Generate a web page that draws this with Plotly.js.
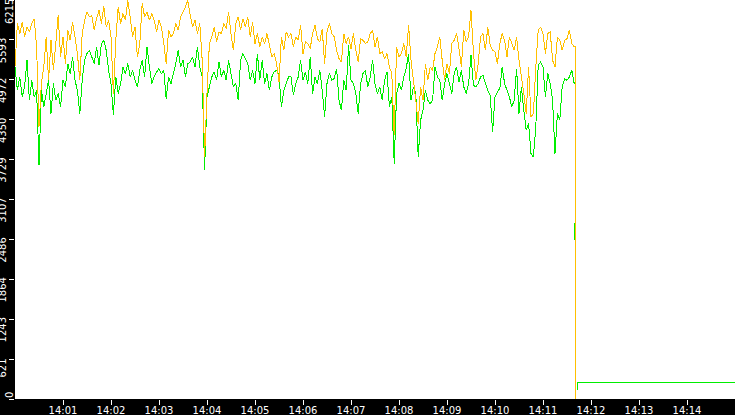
<!DOCTYPE html>
<html>
<head>
<meta charset="utf-8">
<script src="https://cdn.plot.ly/plotly-3.0.1.min.js"></script>
<style>
  html, body { margin: 0; padding: 0; background: #000; }
  #chart { width: 735px; height: 415px; }
  .js-line { shape-rendering: crispEdges; }
  .ytick, .xtick { shape-rendering: crispEdges; }
</style>
</head>
<body>
<div id="chart"></div>
<script>
// ---- data (sampled every 3 s from 14:00:00) ----
const stepSeconds = 3;

const orangeValues = [
  5173,5849,5693,5874,5641,5797,5719,5849,5926,5485,
  4239,4914,5173,5641,4966,5589,5121,5537,5978,5329,
  5641,5225,5745,5589,5874,5641,5381,4966,5693,5900,
  6030,5952,5978,5745,5926,6056,5849,6119,5797,5900,
  5641,4758,5589,6108,5849,6004,5900,6212,5952,5641,
  5797,5329,5537,6170,5952,6030,5900,6004,
  5900,5719,5900,5797,5537,5225,5745,5641,5693,5849,
  5745,5952,6030,6108,6212,5978,5797,5900,5693,5849,
  5277,3771,4758,5537,5641,5797,5563,5719,5693,5849,
  5771,6030,5693,5433,5849,5952,5745,5926,5797,5952,
  5641,5874,5537,5693,5485,5641,5537,5693,5511,5329,
  5381,5225,4940,5641,5433,5719,5641,
  5693,5485,5641,5589,5823,5381,5563,5537,5459,5693,
  5823,5615,5563,5771,5225,5719,5849,5693,5641,5433,
  5303,5251,5693,5537,5641,5459,5693,5433,5251,5615,
  5589,5537,5563,5693,5745,5485,5641,5381,5407,5303,
  5381,5173,5070,4109,5485,5329,5381,5537,5329,5823,
  5277,4966,4654,4291,4862,4654,5225,4966,5173,5121,
  5381,5485,5641,5277,4966,5225,5070,5537,5589,5693,
  5459,5173,5745,5563,5641,6056,5407,4966,5225,5641,
  5693,5433,5797,5511,5433,5407,5225,5537,5693,5589,
  5329,5641,5537,5433,5641,5277,5018,4758,4446,5173,
  4394,4446,5173,5745,5797,5693,5381,5693,5719,5277,
  5173,5641,5589,5433,5589,5615,5745,5537,5485
];

const greenValues = [
  5173,4810,5018,4706,4862,5277,4654,4966,4706,4810,
  3642,4810,4550,4758,4966,4446,4914,4654,4758,4550,
  4966,4862,5225,5070,5329,4966,4810,4446,4966,5277,
  5381,5433,5329,5225,5485,5199,5537,5589,5433,5121,
  4914,4420,5018,4758,4914,5173,5070,5225,5018,5121,
  4966,4862,5121,5277,5018,5485,5173,4914,
  5018,5095,5147,5070,5121,4680,5018,4914,5070,5225,
  5433,5173,5277,5018,5225,5251,5329,5173,5485,5173,
  5018,3564,4706,4862,5018,5095,4966,5251,5018,5121,
  4966,5277,5070,4862,4914,4654,5277,5381,5303,5225,
  4966,5121,4914,5381,4966,5277,4914,5070,4810,5018,
  5095,5121,5044,4550,4810,4914,5018,
  5018,4732,4914,5018,5277,4966,5095,4914,5329,4758,
  5018,4914,5121,4810,4394,4914,5070,4966,4992,5147,
  4654,4498,4966,4810,5511,4966,4914,4758,4446,4914,
  5070,5121,4862,5018,5277,4914,4758,4862,4654,4966,
  5095,4550,4706,3668,4758,4914,4810,5018,5147,5381,
  4654,4862,4758,3771,4342,4498,4810,4654,4602,4654,
  5173,5018,4966,4654,4914,5070,4914,4758,5070,5173,
  4940,5121,4862,4758,4914,5355,4888,4862,4914,5018,
  5044,4914,4810,4732,4161,4706,4784,4836,5173,4914,
  4810,4706,4550,4654,5147,4446,4862,4498,4187,4291,
  3823,3771,4239,5199,5251,5173,4706,5070,4914,4654,
  3823,4446,4342,4862,4992,4966,5018,5121,4914
];

// ---- tail: the drop at about 14:11:40 and the flat level after it ----
const dropTime = "2024-01-01 14:11:40.000";
const preDropTime = "2024-01-01 14:11:38.750";
const restartTime = "2024-01-01 14:11:42.500";
const endTime = "2024-01-01 14:15:00";

const orangeTailTimes  = [dropTime, dropTime];
const orangeTailValues = [5485, 0];

const greenTailTimes   = [dropTime, dropTime, preDropTime, preDropTime, dropTime, dropTime,
                          null, restartTime, restartTime, endTime];
const greenTailValues  = [4914, 2730, 2730, 2480, 2480, 0,
                          null, 140, 257, 257];

// ---- axis ticks ----
const yTickValues = [0, 621, 1243, 1864, 2486, 3107, 3729, 4350, 4972, 5593, 6215];
const yTickLabels = ["", "\u00a0621", "1243", "1864", "2486", "3107", "3729", "4350", "4972", "5593", ""];
const xTickValues = ["2024-01-01 14:01", "2024-01-01 14:02", "2024-01-01 14:03", "2024-01-01 14:04",
                     "2024-01-01 14:05", "2024-01-01 14:06", "2024-01-01 14:07", "2024-01-01 14:08",
                     "2024-01-01 14:09", "2024-01-01 14:10", "2024-01-01 14:11", "2024-01-01 14:12",
                     "2024-01-01 14:13", "2024-01-01 14:14"];
const xTickLabels = ["14:01", "14:02", "14:03", "14:04", "14:05", "14:06", "14:07",
                     "14:08", "14:09", "14:10", "14:11", "14:12", "14:13", "14:14"];
const xRange = ["2024-01-01 14:00:00", "2024-01-01 14:15:00"];
const yRange = [0, 6216];

// ---- build time stamps ----
function pad(n) { return String(n).padStart(2, "0"); }
function timeAt(i) {
  const base = new Date(2024, 0, 1, 14, 0, 0);
  const d = new Date(base.getTime() + i * stepSeconds * 1000);
  return d.getFullYear() + "-" + pad(d.getMonth() + 1) + "-" + pad(d.getDate()) + " " +
         pad(d.getHours()) + ":" + pad(d.getMinutes()) + ":" + pad(d.getSeconds());
}
const orangeTimes = orangeValues.map((_, i) => timeAt(i)).concat(orangeTailTimes);
const greenTimes = greenValues.map((_, i) => timeAt(i)).concat(greenTailTimes);

const traces = [
  {
    x: greenTimes, y: greenValues.concat(greenTailValues),
    type: "scatter", mode: "lines", connectgaps: false,
    line: { color: "#00ee00", width: 1, simplify: false },
    hoverinfo: "skip"
  },
  {
    x: orangeTimes, y: orangeValues.concat(orangeTailValues),
    type: "scatter", mode: "lines",
    line: { color: "#ffc000", width: 1, simplify: false },
    hoverinfo: "skip"
  }
];

const labelFont = { family: "DejaVu Sans", size: 10, color: "#ffffff" };

const layout = {
  width: 735, height: 415,
  margin: { l: 15, r: 0, t: 0, b: 16, pad: 0 },
  paper_bgcolor: "#000000",
  plot_bgcolor: "#ffffff",
  showlegend: false,
  font: labelFont,
  xaxis: {
    type: "date",
    range: xRange,
    tickmode: "array",
    tickvals: xTickValues,
    ticktext: xTickLabels,
    showgrid: false, zeroline: false, showline: false,
    ticks: "outside", ticklen: 5, tickcolor: "#ffffff", tickwidth: 1,
    tickfont: labelFont,
    ticklabelstandoff: -3,
    fixedrange: true
  },
  yaxis: {
    range: yRange,
    tickmode: "array",
    tickvals: yTickValues,
    ticktext: yTickLabels,
    tickangle: -90,
    showgrid: false, zeroline: false, showline: false,
    ticks: "outside", ticklen: 5, tickcolor: "#ffffff", tickwidth: 1,
    tickfont: labelFont,
    ticklabelshift: 12,
    ticklabelstandoff: -1,
    fixedrange: true
  },
  annotations: [
    {
      text: String(yTickValues[0]), xref: "paper", yref: "y", x: -0.0083, y: yTickValues[0],
      xanchor: "center", yanchor: "middle", textangle: -90, yshift: 4,
      showarrow: false, font: labelFont
    },
    {
      text: String(yTickValues[10]), xref: "paper", yref: "y", x: -0.0083, y: yTickValues[10],
      xanchor: "center", yanchor: "middle", textangle: -90, yshift: -12,
      showarrow: false, font: labelFont
    }
  ]
};

Plotly.newPlot("chart", traces, layout, { displayModeBar: false, staticPlot: true });
</script>
</body>
</html>
